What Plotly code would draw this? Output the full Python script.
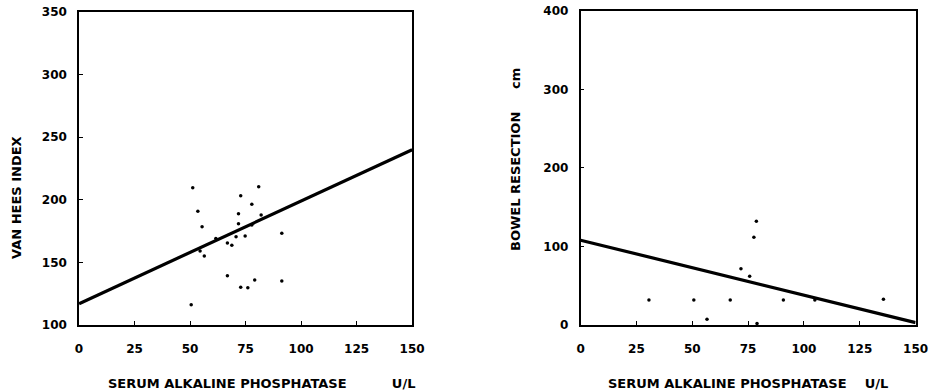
import plotly.graph_objects as go

# Serum alkaline phosphatase (U/L) vs. Van Hees index
alp_vh = [51.2, 80.9, 72.8, 77.8, 53.5, 71.8, 82.0, 55.4, 71.8, 61.6, 77.8, 70.7,
          74.8, 66.8, 68.8, 54.5, 56.4, 66.8, 79.1, 72.8, 76.0, 50.5, 91.3, 91.3]
van_hees = [209.7, 210.5, 203.3, 196.4, 190.8, 188.9, 187.9, 178.5, 180.9, 169.2, 179.9, 170.5,
            171.1, 165.5, 163.7, 159.1, 155.1, 139.4, 135.9, 130.1, 129.8, 116.2, 173.2, 135.1]
fit_vh_x = [0, 150]
fit_vh_y = [117, 240]

# Serum alkaline phosphatase (U/L) vs. bowel resection length (cm)
alp_br = [30.6, 50.7, 56.6, 67.0, 71.8, 75.7, 77.6, 78.7, 90.8, 104.9, 135.6, 79.0]
bowel_res = [31.8, 31.8, 7.4, 31.8, 71.7, 62.0, 111.7, 132.1, 31.8, 31.8, 32.7, 2.0]
fit_br_x = [0, 150]
fit_br_y = [108, 3]

x_ticks = [0, 25, 50, 75, 100, 125, 150]
vh_ticks = [100, 150, 200, 250, 300, 350]
br_ticks = [0, 100, 200, 300, 400]

FONT = "DejaVu Sans"
fig = go.Figure()

for xa, ya, xs, ys, fx, fy in [("x", "y", alp_vh, van_hees, fit_vh_x, fit_vh_y),
                               ("x2", "y2", alp_br, bowel_res, fit_br_x, fit_br_y)]:
    fig.add_trace(go.Scatter(x=fx, y=fy, mode="lines", xaxis=xa, yaxis=ya,
                             line=dict(color="black", width=3.2), showlegend=False))
    fig.add_trace(go.Scatter(x=xs, y=ys, mode="markers", xaxis=xa, yaxis=ya,
                             marker=dict(color="black", size=3.5), showlegend=False))

axis_common = dict(showgrid=False, zeroline=False, showline=True, linecolor="black",
                   linewidth=1.6, mirror=True, ticks="inside", ticklen=4, tickwidth=1.2,
                   tickcolor="black", automargin=False,
                   tickfont=dict(family=FONT, size=12, color="black", weight="bold"))

fig.update_layout(
    width=941, height=392, autosize=False,
    margin=dict(l=0, r=0, t=0, b=0, pad=0),
    paper_bgcolor="white", plot_bgcolor="white",
    xaxis=dict(domain=[0.084, 0.438], range=[0, 150], tickvals=x_ticks,
               anchor="y", ticklabelstandoff=12, **axis_common),
    yaxis=dict(domain=[0.171, 0.969], range=[100, 350], tickvals=vh_ticks,
               anchor="x", ticklabelstandoff=8, **axis_common),
    xaxis2=dict(domain=[0.617, 0.973], range=[0, 150], tickvals=x_ticks,
                anchor="y2", ticklabelstandoff=12, **axis_common),
    yaxis2=dict(domain=[0.171, 0.972], range=[0, 400], tickvals=br_ticks,
                anchor="x2", ticklabelstandoff=8, **axis_common),
)

title_font = dict(family=FONT, size=13, color="black", weight="bold")
sp = "\u00a0"
titles = [
    ("SERUM ALKALINE PHOSPHATASE" + sp * 10 + "U/L", 261, 383, 0),
    ("SERUM ALKALINE PHOSPHATASE" + sp * 4 + "U/L", 748, 383, 0),
    ("VAN HEES INDEX", 17, 198, -90),
    ("BOWEL RESECTION" + sp * 5 + "cm", 515, 160, -90),
]
for text, px, py, ang in titles:
    fig.add_annotation(text=text, xref="paper", yref="paper", textangle=ang,
                       x=px / 941, y=1 - py / 392, xanchor="center", yanchor="middle",
                       showarrow=False, font=title_font)

fig.write_html("out.html")
